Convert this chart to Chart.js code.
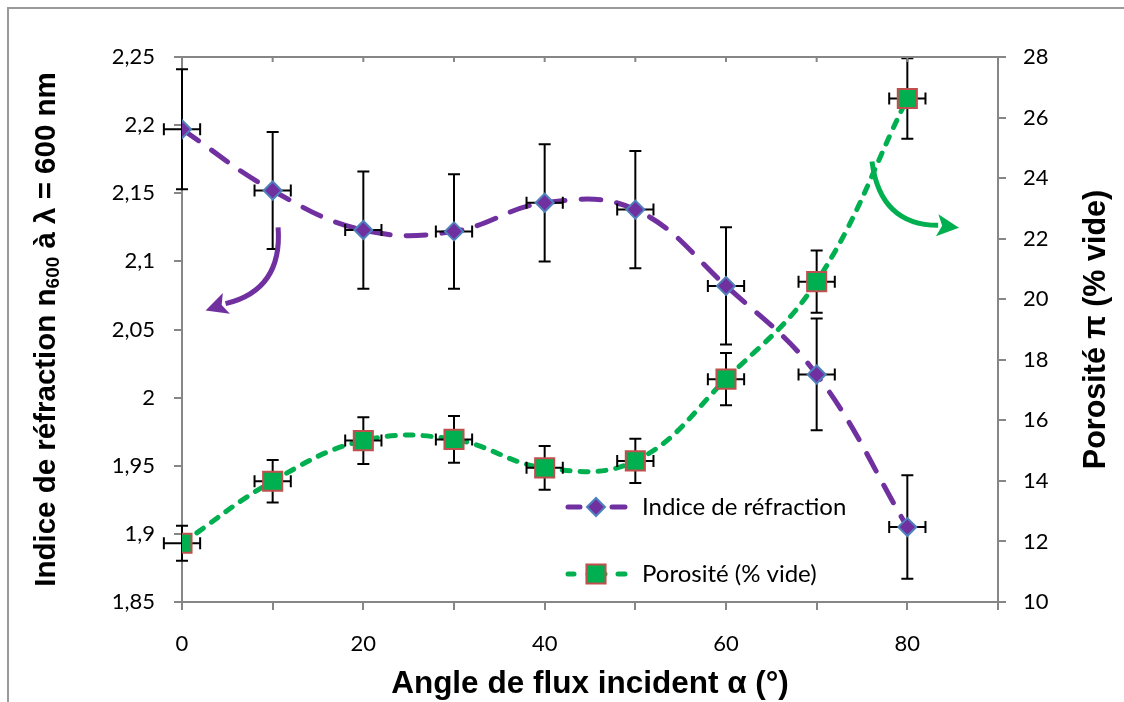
<!DOCTYPE html>
<html>
<head>
<meta charset="utf-8">
<script src="https://cdn.jsdelivr.net/npm/chart.js@4.4.0/dist/chart.umd.min.js"></script>
<style>
  html, body { margin: 0; padding: 0; background: #fff; }
  #wrap { width: 1124px; height: 702px; position: relative; }
</style>
</head>
<body>
<div id="wrap"><canvas id="chart" width="1124" height="702"></canvas></div>
<script>
// values
const angles = [0, 10, 20, 30, 40, 50, 60, 70, 80];
const angleErr = [2, 2, 2, 2, 2, 2, 2, 2, 2];
const indice = [2.197, 2.152, 2.123, 2.122, 2.143, 2.138, 2.082, 2.017, 1.905];
const indiceErr = [0.044, 0.043, 0.043, 0.042, 0.043, 0.043, 0.043, 0.041, 0.038];
const porosite = [11.94, 13.99, 15.33, 15.37, 14.43, 14.66, 17.36, 20.58, 26.63];
const porositeErr = [0.58, 0.70, 0.77, 0.77, 0.72, 0.73, 0.86, 1.03, 1.33];
const labelIndice = 'Indice de réfraction';
const labelPorosite = 'Porosité (% vide)';

const PURPLE = '#7030A0';
const GREEN = '#00B050';
const AXIS = '#868686';
const bold = px => 'bold ' + px + 'px "Liberation Sans", Arial, sans-serif';

Chart.defaults.font.family = 'Lato, "Noto Sans", sans-serif';
Chart.defaults.color = '#000';

const pts = vals => angles.map((a, i) => ({ x: a, y: vals[i] }));
const fmt = v => String(Math.round(v * 100) / 100).replace('.', ',');

// error bars, top frame, legend, arrows, axis titles
const extras = {
    id: 'extras',
    afterDatasetDraw(chart, args) {
        if (!chart.data.datasets[args.index].errorsAfter) return;
        const ctx = chart.ctx;
        const xs = chart.scales.x;
        const series = [[indice, indiceErr, chart.scales.y], [porosite, porositeErr, chart.scales.y2]];
        ctx.save();
        ctx.strokeStyle = '#000';
        ctx.lineWidth = 2;
        series.forEach(([vals, errs, ys]) => {
            vals.forEach((v, i) => {
                const x = xs.getPixelForValue(angles[i]);
                const y = ys.getPixelForValue(v);
                const y0 = ys.getPixelForValue(v - errs[i]);
                const y1 = ys.getPixelForValue(v + errs[i]);
                const x0 = xs.getPixelForValue(angles[i] - angleErr[i]);
                const x1 = xs.getPixelForValue(angles[i] + angleErr[i]);
                ctx.beginPath();
                ctx.moveTo(x, y0); ctx.lineTo(x, y1);
                ctx.moveTo(x - 6, y0); ctx.lineTo(x + 6, y0);
                ctx.moveTo(x - 6, y1); ctx.lineTo(x + 6, y1);
                ctx.moveTo(x0, y); ctx.lineTo(x1, y);
                ctx.moveTo(x0, y - 6); ctx.lineTo(x0, y + 6);
                ctx.moveTo(x1, y - 6); ctx.lineTo(x1, y + 6);
                ctx.stroke();
            });
        });
        ctx.restore();
    },
    afterDraw(chart) {
        const ctx = chart.ctx;
        const a = chart.chartArea;
        const xs = chart.scales.x, ys = chart.scales.y, ys2 = chart.scales.y2;
        const ds = chart.data.datasets;
        ctx.save();

        // outer frame (cut off on right and bottom)
        ctx.strokeStyle = '#9a9a9a';
        ctx.lineWidth = 2;
        ctx.strokeRect(8, 8, 1300, 1300);

        // top border with small inner ticks
        ctx.strokeStyle = AXIS;
        ctx.beginPath();
        ctx.moveTo(a.left, a.top); ctx.lineTo(a.right, a.top);
        xs.ticks.forEach(t => {
            const x = xs.getPixelForValue(t.value);
            ctx.moveTo(x, a.top); ctx.lineTo(x, a.top + 5);
        });
        ctx.stroke();

        // legend
        const legend = [
            { y: 507, label: labelIndice, pt: ds[0], line: ds[2], segs: [[568, 580], [612, 625]] },
            { y: 574, label: labelPorosite, pt: ds[1], line: ds[3], segs: [[568, 574], [588, 605], [618, 625]] }
        ];
        legend.forEach(it => {
            ctx.save();
            ctx.strokeStyle = it.line.borderColor;
            ctx.lineWidth = it.line.borderWidth;
            ctx.lineCap = 'round';
            ctx.beginPath();
            it.segs.forEach(s => { ctx.moveTo(s[0], it.y); ctx.lineTo(s[1], it.y); });
            ctx.stroke();
            ctx.fillStyle = it.pt.backgroundColor;
            ctx.strokeStyle = it.pt.borderColor;
            ctx.lineWidth = it.pt.borderWidth;
            Chart.helpers.drawPoint(ctx, { pointStyle: it.pt.pointStyle, radius: it.pt.pointRadius, borderWidth: it.pt.borderWidth }, 596, it.y);
            ctx.fillStyle = '#000';
            ctx.font = '24px Lato, "Noto Sans", sans-serif';
            ctx.textAlign = 'left';
            ctx.textBaseline = 'middle';
            ctx.fillText(it.label, 642, it.y);
            ctx.restore();
        });

        // curved arrows, given in data units
        const arrow = (scaleY, p0, c, p1, tip, color) => {
            const P = p => [xs.getPixelForValue(p[0]), scaleY.getPixelForValue(p[1])];
            const [x0, y0] = P(p0), [cx, cy] = P(c), [x1, y1] = P(p1), [tx, ty] = P(tip);
            ctx.strokeStyle = color;
            ctx.fillStyle = color;
            ctx.lineWidth = 5;
            ctx.beginPath();
            ctx.moveTo(x0, y0);
            ctx.quadraticCurveTo(cx, cy, x1, y1);
            ctx.stroke();
            const ang = Math.atan2(ty - y1, tx - x1);
            const len = 22, half = 11;
            const bx = tx - len * Math.cos(ang), by = ty - len * Math.sin(ang);
            ctx.beginPath();
            ctx.moveTo(tx, ty);
            ctx.lineTo(bx + half * Math.sin(ang), by - half * Math.cos(ang));
            ctx.lineTo(bx + 5 * Math.cos(ang), by + 5 * Math.sin(ang));
            ctx.lineTo(bx - half * Math.sin(ang), by + half * Math.cos(ang));
            ctx.closePath();
            ctx.fill();
        };
        arrow(ys, [10.6, 2.125], [11.1, 2.079], [4.8, 2.069], [2.6, 2.064], PURPLE);
        arrow(ys2, [76.1, 24.55], [77.0, 22.45], [83.4, 22.44], [85.7, 22.36], GREEN);

        // axis titles
        ctx.fillStyle = '#000';
        ctx.font = bold(31.5);
        ctx.textAlign = 'center';
        ctx.textBaseline = 'middle';
        ctx.fillText('Angle de flux incident α (°)', (a.left + a.right) / 2, 684);

        const cy = (a.top + a.bottom) / 2;
        ctx.save();
        ctx.translate(47, cy);
        ctx.rotate(-Math.PI / 2);
        const p1 = 'Indice de réfraction n', sub = '600', p2 = ' à λ = 600 nm';
        ctx.font = bold(29.5);
        const w1 = ctx.measureText(p1).width, w2 = ctx.measureText(p2).width;
        ctx.font = bold(19);
        const ws = ctx.measureText(sub).width;
        let x = -(w1 + ws + w2) / 2;
        ctx.textAlign = 'left';
        ctx.font = bold(29.5);
        ctx.fillText(p1, x, 0); x += w1;
        ctx.font = bold(19);
        ctx.fillText(sub, x, 7); x += ws;
        ctx.font = bold(29.5);
        ctx.fillText(p2, x, 0);
        ctx.restore();

        ctx.save();
        ctx.translate(1097, cy);
        ctx.rotate(-Math.PI / 2);
        ctx.font = bold(30.5);
        ctx.textAlign = 'center';
        ctx.fillText('Porosité π (% vide)', 0, 0);
        ctx.restore();

        ctx.restore();
    }
};

const axisGrid = { drawOnChartArea: false, tickLength: 8, color: AXIS, lineWidth: 2 };
const axisBorder = { color: AXIS, width: 2 };

new Chart(document.getElementById('chart').getContext('2d'), {
    type: 'line',
    data: {
        datasets: [
            {
                label: labelIndice, data: pts(indice), yAxisID: 'y', showLine: false, order: 2,
                pointStyle: 'rectRot', pointRadius: 9, backgroundColor: PURPLE, borderColor: '#4F81BD', borderWidth: 2
            },
            {
                label: labelPorosite, data: pts(porosite), yAxisID: 'y2', showLine: false, order: 1,
                pointStyle: 'rect', pointRadius: 13.5, backgroundColor: GREEN, borderColor: '#C0504D', borderWidth: 2
            },
            {
                label: labelIndice, data: pts(indice), yAxisID: 'y', order: 4, pointRadius: 0,
                borderColor: PURPLE, borderWidth: 5, borderDash: [20, 16], borderCapStyle: 'round', tension: 0.4, fill: false
            },
            {
                label: labelPorosite, data: pts(porosite), yAxisID: 'y2', order: 3, pointRadius: 0, errorsAfter: true,
                borderColor: GREEN, borderWidth: 5, borderDash: [8, 10], borderCapStyle: 'round', tension: 0.4, fill: false
            }
        ]
    },
    options: {
        responsive: false,
        animation: false,
        events: [],
        layout: { padding: { top: 57, left: 0, right: 0, bottom: 0 } },
        plugins: { legend: { display: false }, tooltip: { enabled: false } },
        scales: {
            x: {
                type: 'linear', min: 0, max: 90,
                ticks: { stepSize: 10, autoSkip: false, maxRotation: 0, padding: 21, font: { size: 22 },
                    callback: v => (v % 20 === 0 && v <= 80 ? String(v) : '') },
                grid: axisGrid, border: axisBorder,
                afterFit: s => { s.height = 100; }
            },
            y: {
                position: 'left', min: 1.85, max: 2.25,
                ticks: { stepSize: 0.05, padding: 19, font: { size: 22 }, callback: v => fmt(v) },
                grid: axisGrid, border: axisBorder,
                afterFit: s => { s.width = 182; }
            },
            y2: {
                position: 'right', min: 10, max: 28,
                ticks: { stepSize: 2, padding: 17, font: { size: 22 }, callback: v => fmt(v) },
                grid: axisGrid, border: axisBorder,
                afterFit: s => { s.width = 126; }
            }
        }
    },
    plugins: [extras]
});
</script>
</body>
</html>
